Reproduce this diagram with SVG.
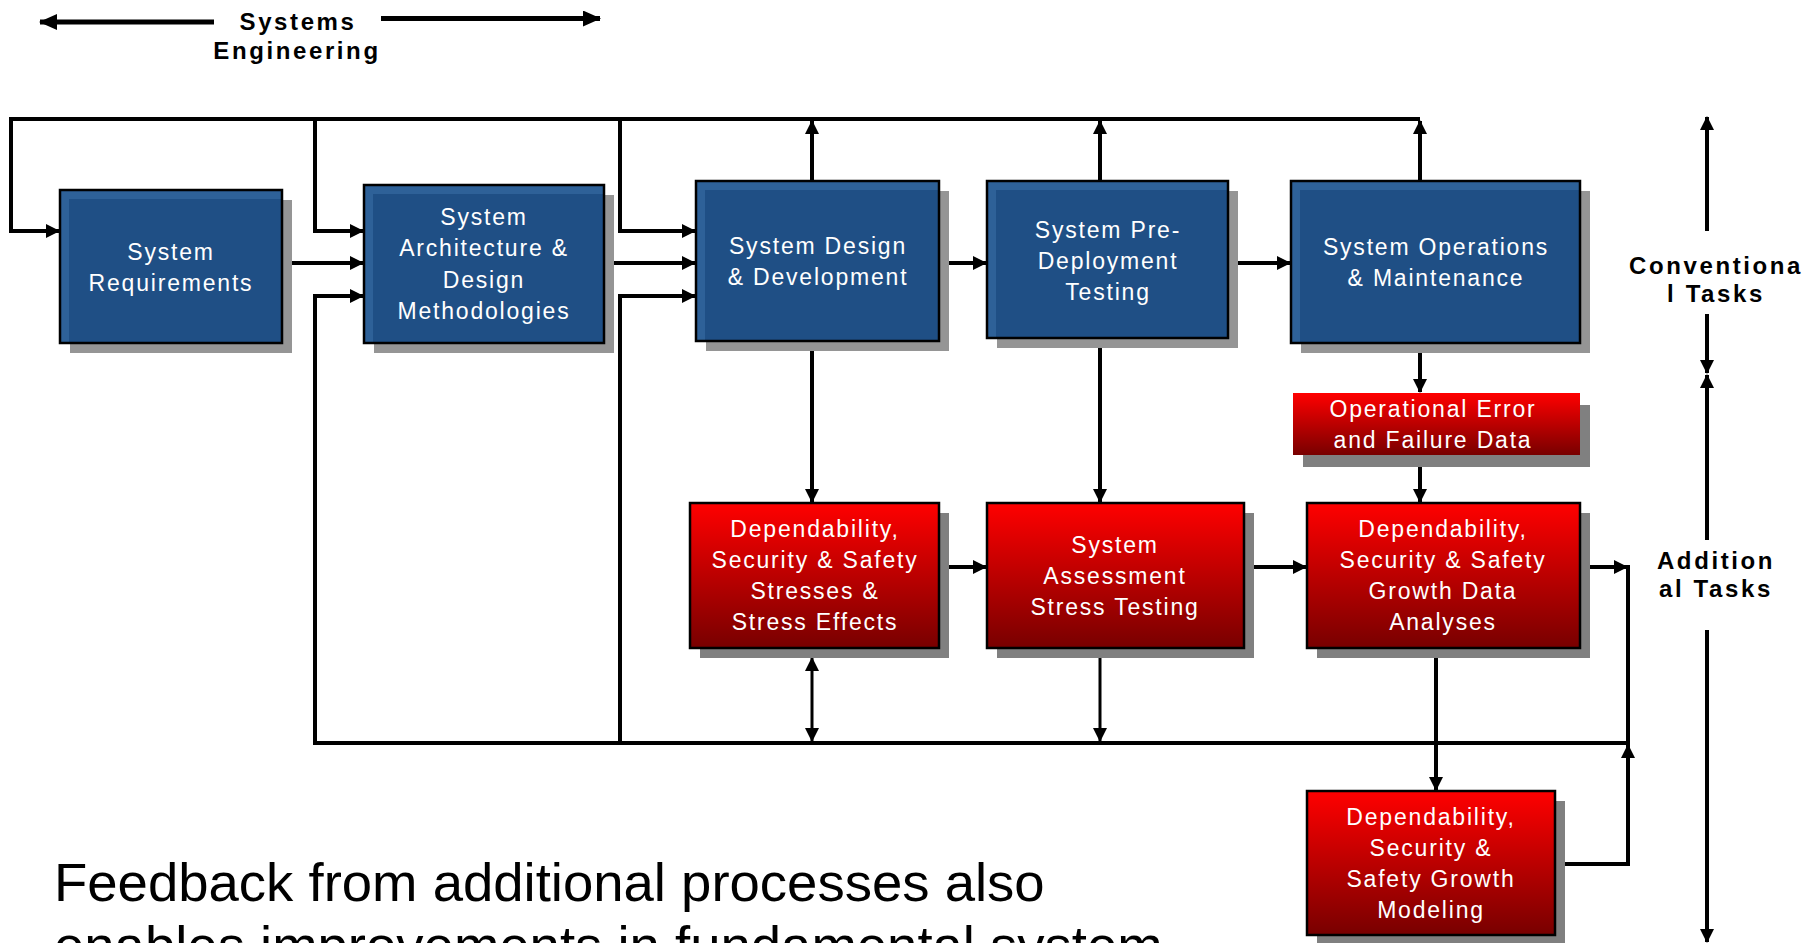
<svg xmlns="http://www.w3.org/2000/svg" width="1811" height="943" viewBox="0 0 1811 943">
<style>
.ln{fill:none;stroke:#000;stroke-width:4;stroke-linejoin:miter}
.lt{fill:none;stroke:#000;stroke-width:3}
.arr{marker-end:url(#ah)}
.bt{font-family:"Liberation Sans",Arial,sans-serif;font-size:23px;fill:#fff;text-anchor:middle;letter-spacing:1.8px}
.hd{font-family:"Liberation Sans",Arial,sans-serif;font-size:24px;font-weight:bold;fill:#000;text-anchor:middle;letter-spacing:2.6px}
.ft{font-family:"Liberation Sans",Arial,sans-serif;font-size:54.5px;fill:#000}
.bo{fill:#2e6198}
.bi{fill:#1f4f85}
.bs{fill:#959595}
.rs{fill:#808080}
.edge{fill:none;stroke:#000;stroke-width:2.5}
</style>
<defs>
<marker id="ah" viewBox="0 0 14 14" refX="13" refY="7" markerWidth="14" markerHeight="14" markerUnits="userSpaceOnUse" orient="auto">
<path d="M0,0 L14,7 L0,14 Z" fill="#000"/>
</marker>
<marker id="ahs" viewBox="0 0 14 14" refX="1" refY="7" markerWidth="14" markerHeight="14" markerUnits="userSpaceOnUse" orient="auto">
<path d="M14,0 L0,7 L14,14 Z" fill="#000"/>
</marker>
<marker id="ahb" viewBox="0 0 18 16" refX="17" refY="8" markerWidth="18" markerHeight="16" markerUnits="userSpaceOnUse" orient="auto">
<path d="M0,0 L18,8 L0,16 Z" fill="#000"/>
</marker>
<linearGradient id="rg" x1="0" y1="0" x2="0" y2="1">
<stop offset="0" stop-color="#ff0000"/>
<stop offset="1" stop-color="#780000"/>
</linearGradient>
</defs>
<rect width="1811" height="943" fill="#fff"/>

<g id="header">
<text class="hd" x="298" y="30">Systems</text>
<text class="hd" x="297" y="59">Engineering</text>
<path d="M214 22 H40" fill="none" stroke="#000" stroke-width="5" marker-end="url(#ahb)"/>
<path d="M381 18.5 H600" fill="none" stroke="#000" stroke-width="5" marker-end="url(#ahb)"/>
</g>

<g id="connectors">
<path class="ln arr" d="M1420 119 H11 V231 H59"/>
<path class="ln arr" d="M315 119 V231 H363"/>
<path class="ln arr" d="M315 743 V296 H363"/>
<path class="ln arr" d="M620 119 V231 H695"/>
<path class="ln arr" d="M620 743 V296 H695"/>
<path class="ln arr" d="M282 263 H363"/>
<path class="ln arr" d="M604 263 H695"/>
<path class="ln arr" d="M939 263 H986"/>
<path class="ln arr" d="M1228 263 H1290"/>
<path class="ln arr" d="M812 181 V121"/>
<path class="ln arr" d="M1100 181 V121"/>
<path class="ln arr" d="M1420 181 V121"/>
<path class="ln arr" d="M812 341 V502"/>
<path class="ln arr" d="M1100 338 V502"/>
<path class="ln arr" d="M1420 343 V392"/>
<path class="ln arr" d="M1420 455 V502"/>
<path class="ln arr" d="M939 567 H986"/>
<path class="ln arr" d="M1244 567 H1306"/>
<path class="ln arr" d="M1580 567 H1627"/>
<path class="ln" d="M1628 565 V745"/>
<path class="ln" d="M313 743 H1630"/>
<path class="lt arr" d="M812 658 V741" marker-start="url(#ahs)"/>
<path class="lt arr" d="M1100 648 V741"/>
<path class="ln arr" d="M1436 648 V790"/>
<path class="ln arr" d="M1555 864 H1628 V745"/>
<path class="ln arr" d="M1707 231 V117"/>
<path class="ln arr" d="M1707 314 V373"/>
<path class="ln arr" d="M1707 540 V375"/>
<path class="ln arr" d="M1707 630 V942"/>
</g>

<g id="lanes">
<text class="hd" x="1716" y="274">Conventiona</text>
<text class="hd" x="1716" y="302">l Tasks</text>
<text class="hd" x="1716" y="569">Addition</text>
<text class="hd" x="1716" y="597">al Tasks</text>
</g>

<g id="n-sr">
<rect class="bs" x="70" y="200" width="222" height="153"/>
<rect class="bo" x="60" y="190" width="222" height="153"/>
<rect class="bi" x="69" y="199" width="213" height="144"/>
<rect class="edge" x="60" y="190" width="222" height="153"/>
<text class="bt" x="171" y="260">System</text>
<text class="bt" x="171" y="291">Requirements</text>
</g>

<g id="n-sa">
<rect class="bs" x="374" y="195" width="240" height="158"/>
<rect class="bo" x="364" y="185" width="240" height="158"/>
<rect class="bi" x="373" y="194" width="231" height="149"/>
<rect class="edge" x="364" y="185" width="240" height="158"/>
<text class="bt" x="484" y="225">System</text>
<text class="bt" x="484" y="256">Architecture &amp;</text>
<text class="bt" x="484" y="288">Design</text>
<text class="bt" x="484" y="319">Methodologies</text>
</g>

<g id="n-sdd">
<rect class="bs" x="706" y="191" width="243" height="160"/>
<rect class="bo" x="696" y="181" width="243" height="160"/>
<rect class="bi" x="705" y="190" width="234" height="151"/>
<rect class="edge" x="696" y="181" width="243" height="160"/>
<text class="bt" x="818" y="254">System Design</text>
<text class="bt" x="818" y="285">&amp; Development</text>
</g>

<g id="n-spdt">
<rect class="bs" x="997" y="191" width="241" height="157"/>
<rect class="bo" x="987" y="181" width="241" height="157"/>
<rect class="bi" x="996" y="190" width="232" height="148"/>
<rect class="edge" x="987" y="181" width="241" height="157"/>
<text class="bt" x="1108" y="238">System Pre-</text>
<text class="bt" x="1108" y="269">Deployment</text>
<text class="bt" x="1108" y="300">Testing</text>
</g>

<g id="n-som">
<rect class="bs" x="1301" y="191" width="289" height="162"/>
<rect class="bo" x="1291" y="181" width="289" height="162"/>
<rect class="bi" x="1300" y="190" width="280" height="153"/>
<rect class="edge" x="1291" y="181" width="289" height="162"/>
<text class="bt" x="1436" y="255">System Operations</text>
<text class="bt" x="1436" y="286">&amp; Maintenance</text>
</g>

<g id="n-oefd">
<rect class="rs" x="1303" y="405" width="287" height="62"/>
<rect fill="url(#rg)" x="1293" y="393" width="287" height="62"/>
<text class="bt" x="1433" y="417">Operational Error</text>
<text class="bt" x="1433" y="448">and Failure Data</text>
</g>

<g id="n-dssse">
<rect class="rs" x="700" y="513" width="249" height="145"/>
<rect fill="url(#rg)" x="690" y="503" width="249" height="145"/>
<rect class="edge" x="690" y="503" width="249" height="145"/>
<text class="bt" x="815" y="537">Dependability,</text>
<text class="bt" x="815" y="568">Security &amp; Safety</text>
<text class="bt" x="815" y="599">Stresses &amp;</text>
<text class="bt" x="815" y="630">Stress Effects</text>
</g>

<g id="n-sast">
<rect class="rs" x="997" y="513" width="257" height="145"/>
<rect fill="url(#rg)" x="987" y="503" width="257" height="145"/>
<rect class="edge" x="987" y="503" width="257" height="145"/>
<text class="bt" x="1115" y="553">System</text>
<text class="bt" x="1115" y="584">Assessment</text>
<text class="bt" x="1115" y="615">Stress Testing</text>
</g>

<g id="n-dssgda">
<rect class="rs" x="1317" y="513" width="273" height="145"/>
<rect fill="url(#rg)" x="1307" y="503" width="273" height="145"/>
<rect class="edge" x="1307" y="503" width="273" height="145"/>
<text class="bt" x="1443" y="537">Dependability,</text>
<text class="bt" x="1443" y="568">Security &amp; Safety</text>
<text class="bt" x="1443" y="599">Growth Data</text>
<text class="bt" x="1443" y="630">Analyses</text>
</g>

<g id="n-dssgm">
<rect class="rs" x="1317" y="801" width="248" height="144"/>
<rect fill="url(#rg)" x="1307" y="791" width="248" height="144"/>
<rect class="edge" x="1307" y="791" width="248" height="144"/>
<text class="bt" x="1431" y="825">Dependability,</text>
<text class="bt" x="1431" y="856">Security &amp;</text>
<text class="bt" x="1431" y="887">Safety Growth</text>
<text class="bt" x="1431" y="918">Modeling</text>
</g>

<g id="caption">
<text class="ft" x="54" y="901">Feedback from additional processes also</text>
<text class="ft" x="54" y="964">enables improvements in fundamental system</text>
</g>
</svg>
